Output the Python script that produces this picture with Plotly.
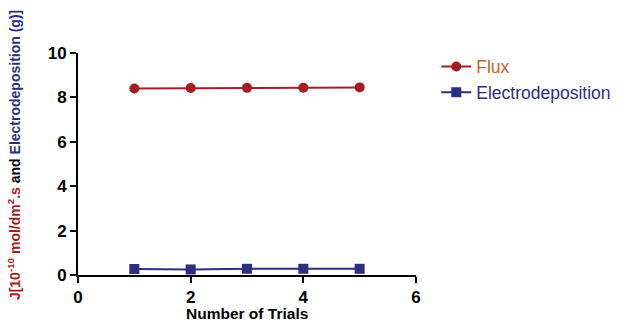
import plotly.graph_objects as go

trials = [1, 2, 3, 4, 5]
flux = [8.40, 8.42, 8.43, 8.44, 8.45]
electrodeposition = [0.27, 0.25, 0.28, 0.28, 0.28]

x_ticks = [0, 2, 4, 6]
y_ticks = [0, 2, 4, 6, 8, 10]

RED = "#a51d24"
NAVY = "#2b2f80"
ORANGE = "#c1652e"
FONT = "Liberation Sans, Arial, sans-serif"

fig = go.Figure()
fig.add_trace(go.Scatter(
    x=trials, y=flux, mode="lines+markers",
    name=f"<span style='color:{ORANGE}'>Flux</span>",
    line=dict(color=RED, width=2),
    marker=dict(symbol="circle", size=10, color=RED),
))
fig.add_trace(go.Scatter(
    x=trials, y=electrodeposition, mode="lines+markers",
    name=f"<span style='color:{NAVY}'>Electrodeposition</span>",
    line=dict(color=NAVY, width=2),
    marker=dict(symbol="square", size=10, color=NAVY),
))

ytitle = (f"<span style='color:{RED}'>J[10<sup>-10</sup> mol/dm<sup>2</sup>.s</span>"
          f" and <span style='color:{NAVY}'>Electrodeposition (g)]</span>")

axis_common = dict(
    showgrid=False, zeroline=False, automargin=False,
    showline=True, linecolor="black", linewidth=2,
    ticks="outside", ticklen=6, tickwidth=2, tickcolor="black",
    tickfont=dict(size=17, color="black", family=FONT, weight="bold"),
)

# axis titles placed as annotations for precise positioning
fig.add_annotation(
    text=ytitle, textangle=-90, showarrow=False,
    xref="paper", yref="paper", x=0, y=0.54,
    xanchor="center", yanchor="middle", xshift=-64,
    font=dict(size=14, weight="bold", family=FONT),
)
fig.add_annotation(
    text="Number of Trials", showarrow=False,
    xref="paper", yref="paper", x=0.5, y=0, yshift=-38,
    xanchor="center", yanchor="middle", borderpad=0,
    font=dict(size=15.5, weight="bold", family=FONT),
)

fig.update_layout(
    width=618, height=322,
    margin=dict(l=78, r=202, t=53, b=47, autoexpand=False),
    paper_bgcolor="white", plot_bgcolor="white",
    font=dict(family=FONT, color="black"),
    showlegend=True,
    legend=dict(x=1.06, y=1.02, xanchor="left", yanchor="top",
                font=dict(size=17.5), bgcolor="rgba(0,0,0,0)",
                itemwidth=30, tracegroupgap=0),
    xaxis=dict(range=[0, 6], tickvals=x_ticks, **axis_common),
    yaxis=dict(range=[0, 10], tickvals=y_ticks, **axis_common),
)

fig.write_html("out.html")
